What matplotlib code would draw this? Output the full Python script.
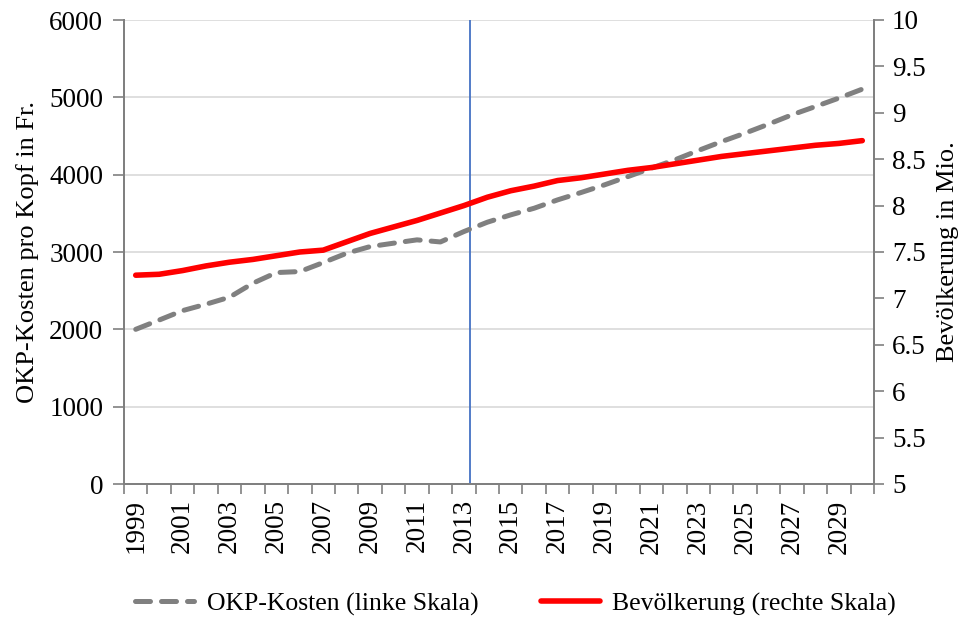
import matplotlib.pyplot as plt
import numpy as np

# data
years = list(range(1999, 2031))
okp_kosten = [2000, 2120, 2242, 2325, 2415, 2596, 2734, 2747, 2863, 2984,
              3070, 3114, 3157, 3130, 3264, 3385, 3480, 3566, 3674, 3769,
              3868, 3975, 4084, 4191, 4312, 4428, 4537, 4653, 4774, 4881,
              4990, 5106]
bevoelkerung = [7.25, 7.26, 7.30, 7.35, 7.39, 7.42, 7.46, 7.50, 7.52, 7.61,
                7.70, 7.77, 7.84, 7.92, 8.00, 8.09, 8.16, 8.21, 8.27, 8.30,
                8.34, 8.38, 8.41, 8.45, 8.49, 8.53, 8.56, 8.59, 8.62, 8.65,
                8.67, 8.70]
year_labels = [str(y) for y in range(1999, 2031, 2)]
marker_year = 2013.25  # blue vertical line, just right of 2013

plt.rcParams['font.family'] = ['Liberation Serif', 'DejaVu Serif']
grey = '#808080'

fig = plt.figure(figsize=(9.64, 6.19), dpi=100)
ax = fig.add_axes([124/964, 1 - 484/619, (874-124)/964, (484-20)/619])
ax2 = ax.twinx()

# left axis: costs
l1, = ax.plot(years, okp_kosten, color=grey, lw=3.6, dashes=(3.0, 2.2),
              dash_capstyle='round', label='OKP-Kosten (linke Skala)', zorder=3)
ax.axvline(marker_year, color='#4472C4', lw=1.3, zorder=2)
ax.set_xlim(1998.5, 2030.5)
ax.set_ylim(0, 6000)
ax.set_yticks(np.arange(0, 6001, 1000))
ax.grid(axis='y', color='#D9D9D9', lw=1.2)
ax.set_axisbelow(True)
ax.set_ylabel('OKP-Kosten pro Kopf in Fr.', fontsize=19, labelpad=7)

# x ticks: labels every 2nd year, tick marks between every category
ax.set_xticks(range(1999, 2031, 2))
ax.set_xticklabels(year_labels, rotation=90, fontsize=19.5)
ax.set_xticks(np.arange(1998.5, 2031, 1), minor=True)
ax.tick_params(axis='x', which='major', length=0, pad=11)
ax.tick_params(axis='x', which='minor', length=7, color=grey, width=1.2)
ax.tick_params(axis='y', labelsize=19.5, length=8, color=grey, width=1.2, pad=7)

# right axis: population
l2, = ax2.plot(years, bevoelkerung, color='#FF0000', lw=4.0,
               solid_capstyle='round', label='Bevölkerung (rechte Skala)', zorder=4)
ax2.set_ylim(5, 10)
ax2.set_yticks(np.arange(5, 10.01, 0.5))
ax2.set_yticklabels(['5', '5.5', '6', '6.5', '7', '7.5', '8', '8.5', '9', '9.5', '10'])
ax2.tick_params(axis='y', labelsize=19.5, length=7, color=grey, width=1.2, pad=6)
ax2.set_ylabel('Bevölkerung in Mio.', fontsize=19, labelpad=8)

for a in (ax, ax2):
    a.spines['top'].set_visible(False)
    for s in ('left', 'right', 'bottom'):
        a.spines[s].set_color(grey)
        a.spines[s].set_linewidth(1.4)

fig.legend(handles=[l1, l2], loc='center', bbox_to_anchor=(0.535, 1 - 604/619),
           ncol=2, frameon=False, fontsize=18.5, handlelength=2.3,
           handletextpad=0.5, columnspacing=2.4)

fig.savefig('out.png', dpi=100)
